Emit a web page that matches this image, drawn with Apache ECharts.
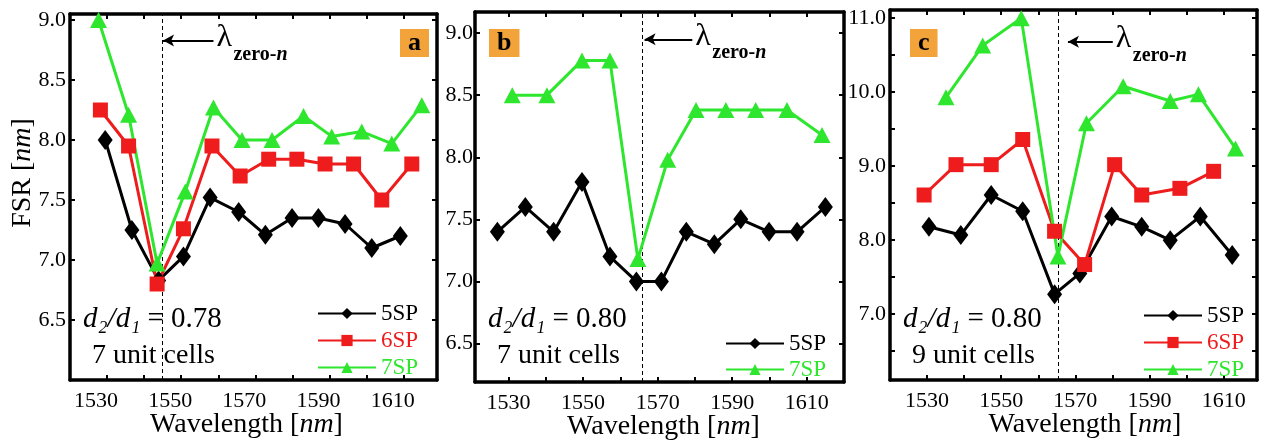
<!DOCTYPE html>
<html><head><meta charset="utf-8">
<script src="https://cdn.jsdelivr.net/npm/echarts@6/dist/echarts.min.js"></script>
<style>html,body{margin:0;padding:0;background:#fff}#c{width:1261px;height:446px}</style>
</head><body><div id="c"></div>
<script>
// ---------- data ----------
const xTicks = [1530, 1540, 1550, 1560, 1570, 1580, 1590, 1600, 1610];
const xTickLabels = [1530, 1550, 1570, 1590, 1610];
const yTicksAB = [6.5, 7.0, 7.5, 8.0, 8.5, 9.0];
const yTicksC = [6.5, 7.0, 7.5, 8.0, 8.5, 9.0, 9.5, 10.0, 10.5, 11.0];
const yLabelsC = [7.0, 8.0, 9.0, 10.0, 11.0];
const seriesNames = ['5SP', '6SP', '7SP'];

// panel a : d2/d1 = 0.78, 7 unit cells
const wlA5 = [1529.5, 1536.7, 1543.9, 1550.6, 1557.8, 1565.5, 1572.7, 1579.9, 1587.0, 1594.2, 1601.4, 1609.1];
const fsrA5 = [8.0, 7.25, 6.83, 7.03, 7.52, 7.4, 7.21, 7.35, 7.35, 7.3, 7.1, 7.2];
const wlA6 = [1528.2, 1535.8, 1543.5, 1550.6, 1558.3, 1565.9, 1573.6, 1581.2, 1588.8, 1596.5, 1604.1, 1612.2];
const fsrA6 = [8.25, 7.95, 6.8, 7.26, 7.95, 7.7, 7.84, 7.84, 7.8, 7.8, 7.5, 7.8];
const wlA7 = [1527.7, 1535.8, 1543.5, 1551.1, 1558.7, 1566.4, 1574.5, 1583.0, 1590.6, 1598.7, 1606.8, 1614.9];
const fsrA7 = [9.0, 8.21, 6.97, 7.57, 8.27, 8.0, 8.0, 8.2, 8.03, 8.07, 7.97, 8.29];

// panel b : d2/d1 = 0.80, 7 unit cells
const wlB5 = [1527.0, 1534.5, 1542.1, 1549.7, 1557.2, 1564.3, 1571.0, 1577.7, 1585.2, 1592.3, 1599.9, 1607.4, 1615.0];
const fsrB5 = [7.4, 7.6, 7.4, 7.8, 7.2, 7.0, 7.0, 7.4, 7.3, 7.5, 7.4, 7.4, 7.6];
const wlB7 = [1531.0, 1540.3, 1549.7, 1557.2, 1564.7, 1572.7, 1580.3, 1588.3, 1596.3, 1604.7, 1614.1];
const fsrB7 = [8.5, 8.5, 8.78, 8.78, 7.18, 7.98, 8.38, 8.38, 8.38, 8.38, 8.18];

// panel c : d2/d1 = 0.80, 9 unit cells
const wlC5 = [1530.5, 1539.1, 1547.3, 1555.8, 1564.4, 1571.2, 1579.8, 1587.9, 1595.6, 1603.7, 1612.3];
const fsrC5 = [8.18, 8.07, 8.61, 8.39, 7.27, 7.55, 8.32, 8.18, 8.0, 8.32, 7.8];
const wlC6 = [1529.2, 1537.8, 1547.3, 1555.8, 1564.4, 1572.5, 1580.6, 1587.9, 1598.2, 1607.3];
const fsrC6 = [8.61, 9.02, 9.02, 9.36, 8.12, 7.67, 9.02, 8.61, 8.7, 8.93];
const wlC7 = [1535.1, 1545.0, 1555.4, 1565.3, 1573.0, 1582.9, 1595.6, 1603.2, 1613.2];
const fsrC7 = [9.93, 10.63, 11.0, 7.78, 9.58, 10.08, 9.88, 9.97, 9.24];

// zero-n wavelengths and arrow positions (data units)
const lambdaZero = [1544.8, 1566.0, 1565.3];
const arrowStart = [1545.1, 1566.5, 1568.0];
const arrowEnd = [1558.7, 1579.3, 1580.1];
const arrowFsr = [8.83, 8.95, 10.68];
const panelLetters = ['a', 'b', 'c'];
const ratioTexts = ['0.78', '0.80', '0.80'];
const cellTexts = ['7 unit cells', '7 unit cells', '9 unit cells'];

// ---------- styling ----------
const SERIF = 'Liberation Serif';
const BLACK = '#000000', RED = '#ee1c1c', GREEN = '#2fe62f', ORANGE = '#f2a33a';
const colors = {'5SP': BLACK, '6SP': RED, '7SP': GREEN};
const symbols = {'5SP': 'diamond', '6SP': 'rect', '7SP': 'triangle'};
const symbolSizes = {'5SP': [15, 20], '6SP': [15, 15], '7SP': [17, 16]};

const grids = [
  {left: 70, top: 14, width: 367, height: 366},
  {left: 475, top: 12, width: 369, height: 370},
  {left: 890, top: 10, width: 367, height: 370}
];
const xRanges = [[1520, 1619], [1521, 1620], [1520, 1619]];
const yRanges = [[6.0, 9.05], [6.19, 9.17], [6.11, 11.11]];
const yTickSets = [yTicksAB, yTicksAB, yTicksC];
const yLabelSets = [yTicksAB, yTicksAB, yLabelsC];
const yLabelMargins = [4, 2, 4];
const xLabelPads = [[0, 22, 0, 0], [0, 0, 0, 0], [0, 0, 0, 0]];
const xNamePads = [[0, 14, 0, 0], [0, 0, 0, 8], [0, 0, 0, 23]];

const axisLine = {show: true, onZero: false, lineStyle: {color: BLACK, width: 3.5}};
const tickStyle = {color: BLACK, width: 2};

const xAxis = [], yAxis = [];
grids.forEach((g, i) => {
  xAxis.push({
    type: 'value', gridIndex: i, position: 'bottom', min: xRanges[i][0], max: xRanges[i][1],
    axisLine, splitLine: {show: false},
    axisTick: {show: true, inside: true, length: 5, lineStyle: tickStyle, customValues: xTicks},
    axisLabel: {show: true, customValues: xTickLabels, margin: 10, color: BLACK,
      fontFamily: SERIF, fontSize: 22, padding: xLabelPads[i], formatter: v => String(Math.round(v))},
    name: '{r|Wavelength [}{i|nm}{r|]}', nameLocation: 'middle', nameGap: 31, nameMoveOverlap: false,
    nameTextStyle: {padding: xNamePads[i], rich: {
      r: {fontFamily: SERIF, fontSize: 28, color: BLACK},
      i: {fontFamily: SERIF, fontSize: 28, fontStyle: 'italic', color: BLACK}}}
  });
  xAxis.push({
    type: 'value', gridIndex: i, position: 'top', min: xRanges[i][0], max: xRanges[i][1],
    axisLine, splitLine: {show: false}, axisLabel: {show: false},
    axisTick: {show: true, inside: true, length: 5, lineStyle: tickStyle, customValues: xTicks}
  });
  const yl = {
    type: 'value', gridIndex: i, position: 'left', min: yRanges[i][0], max: yRanges[i][1],
    axisLine, splitLine: {show: false},
    axisTick: {show: true, inside: true, length: 5, lineStyle: tickStyle, customValues: yTickSets[i]},
    axisLabel: {show: true, customValues: yLabelSets[i], margin: yLabelMargins[i], color: BLACK,
      fontFamily: SERIF, fontSize: 22, formatter: v => Number(v).toFixed(1)}
  };
  if (i === 0) {
    Object.assign(yl, {
      name: '{r|FSR [}{i|nm}{r|]}', nameLocation: 'middle', nameRotate: 90, nameGap: 33, nameMoveOverlap: false,
      nameTextStyle: {padding: [0, 0, 0, 48], rich: {
        r: {fontFamily: SERIF, fontSize: 28, color: BLACK},
        i: {fontFamily: SERIF, fontSize: 28, fontStyle: 'italic', color: BLACK}}}
    });
  }
  yAxis.push(yl);
  yAxis.push({
    type: 'value', gridIndex: i, position: 'right', min: yRanges[i][0], max: yRanges[i][1],
    axisLine, splitLine: {show: false}, axisLabel: {show: false},
    axisTick: {show: true, inside: true, length: 5, lineStyle: tickStyle, customValues: yTickSets[i]}
  });
});

const zip = (xs, ys) => xs.map((x, k) => [x, ys[k]]);
const panelData = [
  {'5SP': zip(wlA5, fsrA5), '6SP': zip(wlA6, fsrA6), '7SP': zip(wlA7, fsrA7)},
  {'5SP': zip(wlB5, fsrB5), '7SP': zip(wlB7, fsrB7)},
  {'5SP': zip(wlC5, fsrC5), '6SP': zip(wlC6, fsrC6), '7SP': zip(wlC7, fsrC7)}
];

const series = [];
panelData.forEach((pd, i) => {
  seriesNames.forEach(name => {
    if (!pd[name]) return;
    const s = {
      type: 'line', name, xAxisIndex: 2 * i, yAxisIndex: 2 * i, data: pd[name],
      symbol: symbols[name], symbolSize: symbolSizes[name], showSymbol: true,
      lineStyle: {color: colors[name], width: 3}, itemStyle: {color: colors[name]},
      color: colors[name], z: 3, silent: true
    };
    if (name === '5SP') {
      s.markLine = {
        silent: true, symbol: ['none', 'none'], animation: false, z: 2,
        label: {show: false},
        data: [
          {xAxis: lambdaZero[i], lineStyle: {type: [4, 3], color: BLACK, width: 1}},
          [{coord: [arrowEnd[i], arrowFsr[i]], symbol: 'none', lineStyle: {type: 'solid', color: BLACK, width: 2}},
           {coord: [arrowStart[i], arrowFsr[i]], symbol: 'arrow', symbolSize: [9, 11]}]
        ]
      };
    }
    series.push(s);
  });
});

function legendFor(names, left, top, gap) {
  const ts = c => ({color: c, fontFamily: SERIF, fontSize: 23, lineHeight: 21});
  return {
    orient: 'vertical', left, top, padding: 0, itemWidth: 58, itemHeight: 14, itemGap: gap,
    selectedMode: false,
    textStyle: ts(BLACK),
    data: names.map(n => ({name: n, textStyle: ts(colors[n])}))
  };
}

const chart = echarts.init(document.getElementById('c'), null, {renderer: 'canvas'});
chart.setOption({
  backgroundColor: '#ffffff',
  animation: false,
  grid: grids.map(g => Object.assign({outerBoundsMode: 'none', containLabel: false}, g)),
  xAxis, yAxis, series,
  legend: [
    legendFor(['5SP', '6SP', '7SP'], 317, 302, 4),
    legendFor(['5SP', '7SP'], 725, 332, 3),
    legendFor(['5SP', '6SP', '7SP'], 1143, 304, 4)
  ]
});

// ---------- annotations (title components, positioned from the grids / scales) ----------
const titles = [];
const ttl = (left, top, text, ts, extra) => Object.assign({
  left, top, padding: 0, text, textStyle: Object.assign({fontFamily: SERIF, color: BLACK, fontWeight: 'normal'}, ts)
}, extra || {});
const boxLeft = [g => g.left + g.width - 37, g => g.left + 14, g => g.left + 20];
grids.forEach((g, i) => {
  titles.push(ttl(boxLeft[i](g), 29, panelLetters[i],
    {fontSize: 26, fontWeight: 'bold', lineHeight: 26},
    {backgroundColor: ORANGE, padding: [1, 8, 1, 8]}));
  const tx = g.left + 13;
  titles.push(ttl(tx, 303, '{i|d₂/d₁}{r| = ' + ratioTexts[i] + '}', {fontSize: 29, lineHeight: 32, rich: {
    i: {fontFamily: SERIF, fontSize: 29, fontStyle: 'italic', color: BLACK, lineHeight: 32},
    r: {fontFamily: SERIF, fontSize: 29, color: BLACK, lineHeight: 32}}}));
  titles.push(ttl(tx + 9, 340, cellTexts[i], {fontSize: 28, lineHeight: 32}));
  const p = chart.convertToPixel({xAxisIndex: 2 * i, yAxisIndex: 2 * i}, [arrowEnd[i], arrowFsr[i]]);
  titles.push(ttl(p[0] + 3, p[1] - 19, 'λ', {fontSize: 32, lineHeight: 32}));
  titles.push(ttl(p[0] + 20, p[1] + 4, '{b|zero-}{bi|n}', {fontSize: 20, lineHeight: 20, rich: {
    b: {fontFamily: SERIF, fontSize: 20, fontWeight: 'bold', color: BLACK, lineHeight: 20},
    bi: {fontFamily: SERIF, fontSize: 20, fontWeight: 'bold', fontStyle: 'italic', color: BLACK, lineHeight: 20}}}));
});
chart.setOption({title: titles});
</script>
</body></html>
